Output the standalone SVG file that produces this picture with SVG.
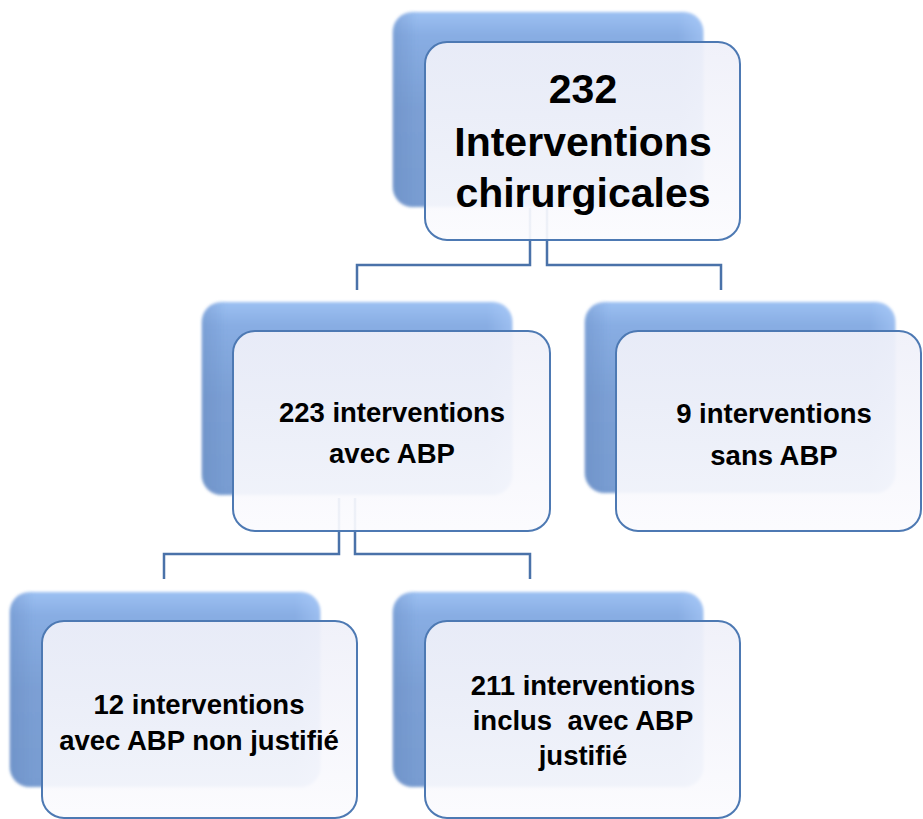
<svg xmlns="http://www.w3.org/2000/svg" width="923" height="819" viewBox="0 0 923 819">
  <defs>
    <linearGradient id="backFill" x1="0" y1="0" x2="0" y2="1">
      <stop offset="0" stop-color="#9cc0f2"/>
      <stop offset="0.12" stop-color="#88ade3"/>
      <stop offset="0.5" stop-color="#7b9fd4"/>
      <stop offset="1" stop-color="#789cd1"/>
    </linearGradient>
    <linearGradient id="backSide" x1="0" y1="0" x2="1" y2="0">
      <stop offset="0" stop-color="#5f84bb" stop-opacity="0.35"/>
      <stop offset="0.08" stop-color="#5f84bb" stop-opacity="0"/>
      <stop offset="0.92" stop-color="#b4d2ff" stop-opacity="0"/>
      <stop offset="1" stop-color="#b4d2ff" stop-opacity="0.45"/>
    </linearGradient>
    <linearGradient id="frontFill" x1="0" y1="0" x2="0" y2="1">
      <stop offset="0" stop-color="#eff0f9"/>
      <stop offset="1" stop-color="#fbfbfe"/>
    </linearGradient>
    <filter id="soft" x="-5%" y="-5%" width="110%" height="110%">
      <feGaussianBlur stdDeviation="1.4"/>
    </filter>
  </defs>
  <style>
    .back { fill: url(#backFill); filter: url(#soft); }
    .backside { fill: url(#backSide); filter: url(#soft); }
    .front { fill: url(#frontFill); fill-opacity: 0.93; stroke: #4d79b3; stroke-width: 2; }
    .conn { fill: none; stroke: #4a72a9; stroke-width: 2.5; }
    .t { font-family: "Liberation Sans", Arial, sans-serif; font-weight: bold; fill: #000; text-anchor: middle; white-space: pre; }
    .big { font-size: 41px; }
    .mid { font-size: 27.5px; }
  </style>

  <!-- connectors (drawn under the nodes' front panels) -->
  <g id="connectors">
    <polyline class="conn" points="530,208 530,265 357,265 357,290"/>
    <polyline class="conn" points="547,208 547,265 721,265 721,290"/>
    <polyline class="conn" points="339,498 339,554 164,554 164,579"/>
    <polyline class="conn" points="355,498 355,554 530,554 530,579"/>
  </g>

  <g id="node-root">
    <rect class="back" x="393" y="12" width="310" height="195" rx="20"/>
    <rect class="backside" x="393" y="12" width="310" height="195" rx="20"/>
    <rect class="front" x="425" y="42" width="315" height="198" rx="22"/>
    <text class="t big" x="583" y="103">232</text>
    <text class="t big" x="583" y="156">Interventions</text>
    <text class="t big" x="583" y="207">chirurgicales</text>
  </g>

  <g id="node-avec-abp">
    <rect class="back" x="202" y="302" width="310" height="193" rx="20"/>
    <rect class="backside" x="202" y="302" width="310" height="193" rx="20"/>
    <rect class="front" x="233" y="331" width="317" height="200" rx="22"/>
    <text class="t mid" x="392" y="422">223 interventions</text>
    <text class="t mid" x="392" y="463">avec ABP</text>
  </g>

  <g id="node-sans-abp">
    <rect class="back" x="585" y="302" width="310" height="191" rx="20"/>
    <rect class="backside" x="585" y="302" width="310" height="191" rx="20"/>
    <rect class="front" x="616" y="331" width="305" height="200" rx="22"/>
    <text class="t mid" x="774" y="423">9 interventions</text>
    <text class="t mid" x="774" y="465">sans ABP</text>
  </g>

  <g id="node-non-justifie">
    <rect class="back" x="10" y="592" width="310" height="195" rx="20"/>
    <rect class="backside" x="10" y="592" width="310" height="195" rx="20"/>
    <rect class="front" x="42" y="621" width="315" height="197" rx="22"/>
    <text class="t mid" x="199" y="714">12 interventions</text>
    <text class="t mid" x="199" y="750">avec ABP non justifié</text>
  </g>

  <g id="node-justifie">
    <rect class="back" x="393" y="592" width="310" height="195" rx="20"/>
    <rect class="backside" x="393" y="592" width="310" height="195" rx="20"/>
    <rect class="front" x="425" y="621" width="315" height="197" rx="22"/>
    <text class="t mid" x="583" y="695">211 interventions</text>
    <text class="t mid" x="583" y="730">inclus  avec ABP</text>
    <text class="t mid" x="583" y="765">justifié</text>
  </g>
</svg>
